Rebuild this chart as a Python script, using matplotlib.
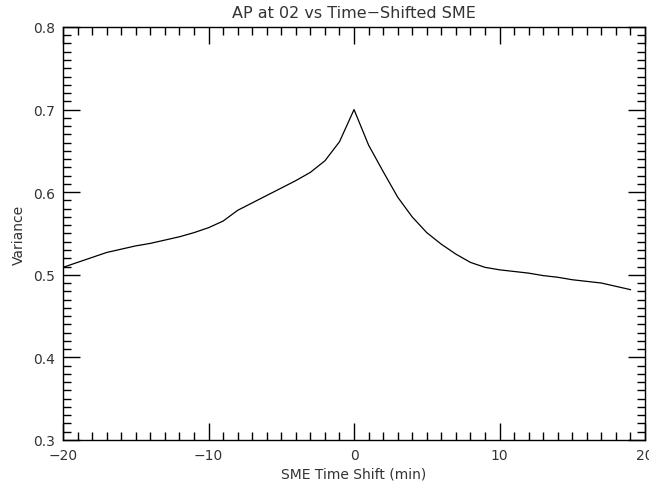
import matplotlib
matplotlib.use('Agg')
import matplotlib.pyplot as plt
from matplotlib.ticker import MultipleLocator

# time shift of SME relative to AP (minutes) and resulting variance
shift = list(range(-20, 20))
variance = [0.509, 0.515, 0.521, 0.527, 0.531, 0.535, 0.538, 0.542, 0.546, 0.551,
            0.557, 0.565, 0.578, 0.587, 0.596, 0.605, 0.614, 0.624, 0.638, 0.661,
            0.700, 0.657, 0.625, 0.594, 0.570, 0.551, 0.537, 0.525, 0.515, 0.509,
            0.506, 0.504, 0.502, 0.499, 0.497, 0.494, 0.492, 0.490, 0.486, 0.482]

fig = plt.figure(figsize=(6.49, 4.89), dpi=100)
ax = fig.add_axes([0.0971, 0.0982, 0.8968, 0.8446])

ax.plot(shift, variance, color='black', linewidth=0.9)

ax.set_xlim(-20, 20)
ax.set_ylim(0.3, 0.8)
ax.xaxis.set_major_locator(MultipleLocator(10))
ax.xaxis.set_minor_locator(MultipleLocator(1))
ax.yaxis.set_major_locator(MultipleLocator(0.1))
ax.yaxis.set_minor_locator(MultipleLocator(0.01))
ax.yaxis.set_major_formatter(plt.FuncFormatter(lambda v, p: '%.1f' % v))

ax.tick_params(which='both', direction='in', top=True, right=True,
               width=1, color='black', labelsize=10, labelcolor='#333333')
ax.tick_params(which='major', length=12, pad=6)
ax.tick_params(which='minor', length=6)
for s in ax.spines.values():
    s.set_linewidth(1)

ax.set_title('AP at 02 vs Time\u2212Shifted SME', fontsize=11.5, color='#333333', pad=7)
ax.set_xlabel('SME Time Shift (min)', fontsize=10, color='#333333', labelpad=3)
ax.set_ylabel('Variance', fontsize=10, color='#333333', labelpad=5)

fig.savefig('out.png', dpi=100)
